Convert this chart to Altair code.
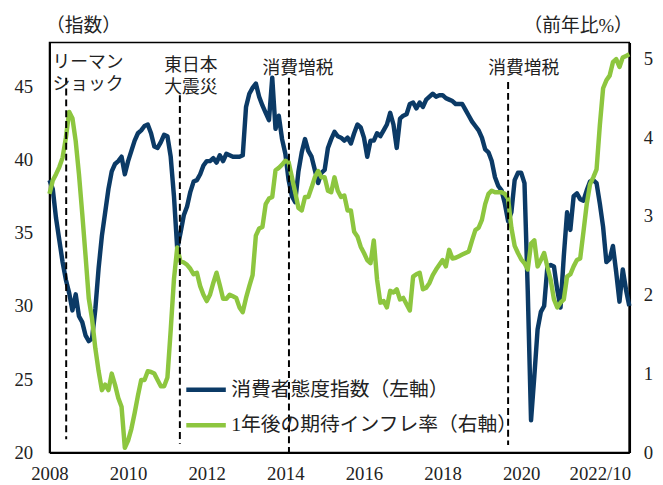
import altair as alt
import pandas as pd

# ---- data (monthly, 2008/1 .. 2022/10, index 0..177) ----
cci_2008 = [38.6, 38.0, 36.0, 34.5, 33.0, 31.8, 30.9, 29.7, 30.8, 29.3, 28.9, 28.0]
cci_2009 = [27.6, 27.8, 29.8, 32.6, 34.8, 36.4, 38.0, 39.2, 39.7, 39.9, 40.2, 39.0]
cci_2010 = [39.9, 40.6, 41.3, 41.8, 42.0, 42.3, 42.4, 41.8, 40.9, 40.8, 41.2, 41.7]
cci_2011 = [41.6, 40.2, 37.5, 33.9, 35.0, 36.2, 36.8, 37.8, 38.5, 38.6, 39.0, 39.6]
cci_2012 = [39.9, 39.9, 40.1, 39.8, 40.3, 39.9, 40.4, 40.3, 40.2, 40.2, 40.2, 40.3]
cci_2013 = [43.6, 44.5, 44.9, 45.2, 44.3, 43.7, 43.2, 42.7, 45.6, 42.1, 43.0, 41.4]
cci_2014 = [40.4, 38.6, 37.5, 37.1, 39.2, 40.5, 41.4, 40.6, 40.2, 39.3, 38.4, 39.1]
cci_2015 = [39.3, 40.8, 41.4, 41.9, 41.6, 41.5, 41.3, 41.5, 41.1, 41.8, 42.4, 42.2]
cci_2016 = [41.5, 40.2, 41.3, 41.3, 41.8, 41.6, 42.0, 42.4, 43.2, 42.4, 40.8, 42.8]
cci_2017 = [43.0, 43.1, 43.8, 43.9, 43.5, 43.9, 43.6, 44.1, 44.3, 44.5, 44.3, 44.4]
cci_2018 = [44.4, 44.2, 44.1, 44.0, 43.8, 43.8, 43.8, 43.4, 43.0, 42.6, 42.3, 42.0]
cci_2019 = [41.5, 40.7, 40.5, 39.9, 38.8, 38.2, 37.9, 37.0, 35.8, 36.4, 38.6, 39.1]
cci_2020 = [39.1, 38.4, 31.0, 22.2, 25.2, 28.4, 29.6, 30.0, 32.7, 32.8, 32.7, 31.1]
cci_2021 = [29.9, 33.4, 36.4, 35.2, 37.5, 37.7, 37.3, 37.2, 37.9, 38.5, 38.6, 38.4]
cci_2022 = [37.0, 35.4, 33.0, 33.2, 34.1, 32.3, 30.3, 32.5, 31.1, 30.0]

inf_2008 = [3.28, 3.45, 3.53, 3.62, 3.74, 3.99, 4.32, 4.24, 3.95, 3.53, 3.03, 2.50]
inf_2009 = [1.95, 1.69, 1.32, 1.03, 0.79, 0.86, 0.79, 1.00, 0.86, 0.69, 0.58, 0.06]
inf_2010 = [0.15, 0.30, 0.50, 0.72, 0.92, 0.92, 1.03, 1.02, 1.00, 0.92, 0.84, 0.84]
inf_2011 = [0.95, 1.55, 2.20, 2.60, 2.42, 2.41, 2.38, 2.33, 2.26, 2.28, 2.11, 2.00]
inf_2012 = [1.92, 2.00, 2.15, 2.28, 2.12, 1.95, 1.95, 2.00, 1.98, 1.96, 1.84, 1.78]
inf_2013 = [1.96, 2.11, 2.25, 2.75, 2.84, 2.86, 3.15, 3.22, 3.24, 3.58, 3.61, 3.65]
inf_2014 = [3.70, 3.68, 3.49, 3.30, 3.10, 3.07, 3.24, 3.24, 3.36, 3.49, 3.57, 3.49]
inf_2015 = [3.49, 3.32, 3.30, 3.49, 3.32, 3.24, 3.26, 3.07, 3.07, 2.80, 2.74, 2.61]
inf_2016 = [2.53, 2.44, 2.40, 2.69, 2.19, 1.90, 1.92, 1.84, 2.05, 2.03, 2.07, 1.94]
inf_2017 = [1.96, 1.88, 1.80, 2.23, 2.26, 2.28, 2.07, 2.09, 2.15, 2.25, 2.32, 2.38]
inf_2018 = [2.44, 2.36, 2.57, 2.46, 2.47, 2.49, 2.51, 2.53, 2.55, 2.69, 2.82, 2.85]
inf_2019 = [2.95, 3.15, 3.28, 3.32, 3.30, 3.30, 3.30, 3.28, 3.22, 2.85, 2.62, 2.53]
inf_2020 = [2.45, 2.40, 2.32, 2.65, 2.69, 2.36, 2.44, 2.53, 2.35, 2.19, 1.94, 1.84]
inf_2021 = [1.90, 1.94, 2.23, 2.26, 2.36, 2.44, 2.46, 2.80, 3.15, 3.40, 3.49, 3.59]
inf_2022 = [4.15, 4.62, 4.72, 4.78, 4.95, 4.99, 4.89, 5.01, 5.03, 5.05]

cci = (cci_2008 + cci_2009 + cci_2010 + cci_2011 + cci_2012 + cci_2013 + cci_2014
       + cci_2015 + cci_2016 + cci_2017 + cci_2018 + cci_2019 + cci_2020 + cci_2021 + cci_2022)
infl = (inf_2008 + inf_2009 + inf_2010 + inf_2011 + inf_2012 + inf_2013 + inf_2014
        + inf_2015 + inf_2016 + inf_2017 + inf_2018 + inf_2019 + inf_2020 + inf_2021 + inf_2022)
n = len(cci)
assert n == len(infl) == 178

series_names = ["消費者態度指数（左軸）", "1年後の期待インフレ率（右軸）"]
series_colors = ["#0B3A66", "#8DC63F"]

x_tick_values = [0, 24, 48, 72, 96, 120, 144, 168]
x_tick_labels = ["2008", "2010", "2012", "2014", "2016", "2018", "2020", "2022/10"]

left_ticks = [20, 25, 30, 35, 40, 45]
right_ticks = [0, 1, 2, 3, 4, 5]

# events (dashed lines): month index, top and bottom on the left axis
event_idx = [5.1, 39.8, 73.1, 140.0]
event_top = [45.6, 44.4, 45.6, 45.3]
event_bottom = [20.9, 20.6, 20.0, 20.5]

ann_text = ["リーマン", "ショック", "東日本", "大震災", "消費増税", "消費増税"]
ann_idx = [0.9, 0.9, 35.0, 35.0, 65.0, 133.9]
ann_y = [46.6, 45.1, 46.4, 44.9, 46.2, 46.2]

# ---- tables ----
df = pd.DataFrame({
    "idx": list(range(n)) * 2,
    "value": cci + infl,
    "series": [series_names[0]] * n + [series_names[1]] * n,
})
ev = pd.DataFrame({"idx": event_idx, "top": event_top, "bottom": event_bottom})
ann = pd.DataFrame({"idx": ann_idx, "y": ann_y, "label": ann_text})

FONT = "Liberation Serif, Noto Sans CJK JP"

label_expr = "''"
for v, t in zip(reversed(x_tick_values), reversed(x_tick_labels)):
    label_expr = f"datum.value == {v} ? '{t}' : ({label_expr})"

x_scale = alt.Scale(domain=[0, n - 1], nice=False, zero=False)
left_scale = alt.Scale(domain=[20, 48], nice=False, zero=False)
right_scale = alt.Scale(domain=[0, 5.2], nice=False, zero=False)

x_axis = alt.Axis(values=x_tick_values, labelExpr=label_expr, title=None, orient="bottom",
                  labelFont=FONT, labelFontSize=19, labelPadding=12, labelFlush=False,
                  labelColor="#222222", ticks=False, domain=True, domainColor="black",
                  domainWidth=2, grid=False, labelOverlap=False)

left_axis = alt.Axis(values=left_ticks, orient="left", title="（指数）",
                     titleAngle=0, titleAlign="left", titleBaseline="middle",
                     titleX=-4, titleY=-17, titleFont=FONT, titleFontSize=19,
                     titleFontWeight="normal", titleColor="#222222",
                     labelFont=FONT, labelFontSize=19, labelPadding=17,
                     labelColor="#222222", ticks=False, domain=True, domainColor="black",
                     domainWidth=2, grid=False)

right_axis = alt.Axis(values=right_ticks, orient="right", title="（前年比%）",
                      titleAngle=0, titleAlign="right", titleBaseline="middle",
                      titleX=3, titleY=-17, titleFont=FONT, titleFontSize=19,
                      titleFontWeight="normal", titleColor="#222222",
                      labelFont=FONT, labelFontSize=19, labelPadding=14,
                      labelColor="#222222", ticks=False, domain=True, domainColor="black",
                      domainWidth=2.5, grid=False)

legend = alt.Legend(orient="none", legendX=136, legendY=329, title=None,
                    symbolType="stroke", symbolSize=1600, symbolStrokeWidth=4.5,
                    labelFont=FONT, labelFontSize=20, labelColor="#222222",
                    labelOffset=3, labelLimit=500, rowPadding=3, padding=0)

color_enc = alt.Color("series:N", scale=alt.Scale(domain=series_names, range=series_colors),
                      legend=legend)

x_enc = alt.X("idx:Q", scale=x_scale, axis=x_axis)

navy = alt.Chart(df).transform_filter(
    alt.datum.series == series_names[0]
).mark_line(strokeWidth=4.5, strokeJoin="round").encode(
    x=x_enc,
    y=alt.Y("value:Q", scale=left_scale, axis=left_axis),
    color=color_enc,
)

green = alt.Chart(df).transform_filter(
    alt.datum.series == series_names[1]
).mark_line(strokeWidth=4.5, strokeJoin="round").encode(
    x=x_enc,
    y=alt.Y("value:Q", scale=right_scale, axis=right_axis),
    color=color_enc,
)

rules = alt.Chart(ev).mark_rule(color="black", strokeWidth=2, strokeDash=[7, 4]).encode(
    x=x_enc,
    y=alt.Y("top:Q", scale=left_scale, axis=None),
    y2="bottom:Q",
)

texts = alt.Chart(ann).mark_text(align="left", baseline="middle", font=FONT,
                                 fontSize=18, color="#222222").encode(
    x=x_enc,
    y=alt.Y("y:Q", scale=left_scale, axis=None),
    text="label:N",
)

chart = alt.layer(navy, green, rules, texts).resolve_scale(
    y="independent"
).properties(
    width=587, height=415,
    autosize=alt.AutoSizeParams(type="none"),
    padding={"left": 42, "top": 32, "right": 26, "bottom": 28},
    background="white",
    view=alt.ViewBackground(stroke="black", strokeWidth=1.5),
)

chart.save("out.html", embed_options={"renderer": "svg", "actions": False})
